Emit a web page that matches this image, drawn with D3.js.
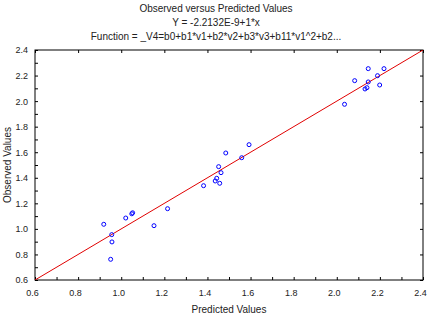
<!DOCTYPE html>
<html><head><meta charset="utf-8">
<script src="https://cdn.jsdelivr.net/npm/d3@7"></script>
<style>body{margin:0;background:#fff}svg{display:block}text{font-family:"Liberation Sans",Arial,sans-serif}</style>
</head><body>
<script>
const predicted = [0.919,0.956,0.957,0.951,1.021,1.049,1.053,1.152,1.215,1.382,1.436,1.443,1.457,1.463,1.452,1.485,1.559,1.593,2.036,2.083,2.131,2.140,2.146,2.146,2.189,2.199,2.219];
const observed  = [1.036,0.955,0.898,0.762,1.085,1.118,1.126,1.025,1.158,1.338,1.375,1.396,1.357,1.440,1.487,1.594,1.557,1.659,1.975,2.160,2.095,2.105,2.150,2.254,2.199,2.126,2.254];
const titleLines = ["Observed versus Predicted Values","Y = -2.2132E-9+1*x","Function = _V4=b0+b1*v1+b2*v2+b3*v3+b11*v1^2+b2..."];
const xTicks = [0.6,0.8,1.0,1.2,1.4,1.6,1.8,2.0,2.2,2.4];
const yTicks = [0.6,0.8,1.0,1.2,1.4,1.6,1.8,2.0,2.2,2.4];
const minorTicks = [0.7,0.9,1.1,1.3,1.5,1.7,1.9,2.1,2.3];
const fitLine = {intercept:-2.2132e-9, slope:1};

const W=434,H=320, m={l:35,r:11,t:50,b:40};
const svg=d3.select("body").append("svg").attr("width",W).attr("height",H);
const x=d3.scaleLinear().domain([0.6,2.4]).range([m.l,W-m.r]);
const y=d3.scaleLinear().domain([0.6,2.4]).range([H-m.b,m.t]);
const fmt=d3.format(".1f");

svg.selectAll("text.title").data(titleLines).join("text")
  .attr("x",216).attr("y",(d,i)=>12+i*14).attr("text-anchor","middle")
  .attr("font-size",10).attr("fill","#222").text(d=>d);

const g=svg.append("g");
const bx=g.append("g").attr("transform",`translate(0,${H-m.b})`)
  .call(d3.axisBottom(x).tickValues(xTicks).tickFormat(fmt).tickSize(-3).tickPadding(10));
bx.selectAll(".tick text").attr("dx",-3);
bx.append("g").call(d3.axisBottom(x).tickValues(minorTicks).tickFormat("").tickSize(-3));
const ly=g.append("g").attr("transform",`translate(${m.l},0)`)
  .call(d3.axisLeft(y).tickValues(yTicks).tickFormat(fmt).tickSize(-3).tickPadding(7));
ly.append("g").call(d3.axisLeft(y).tickValues(minorTicks).tickFormat("").tickSize(-3));
g.append("g").attr("transform",`translate(0,${m.t})`).call(d3.axisTop(x).tickValues(xTicks).tickFormat("").tickSize(-3));
g.append("g").attr("transform",`translate(${W-m.r},0)`).call(d3.axisRight(y).tickValues(yTicks).tickFormat("").tickSize(-3));
g.selectAll(".domain").remove();
g.selectAll(".tick line").attr("stroke","#000");
g.selectAll(".tick text").attr("font-size",9).attr("fill","#222").attr("font-family","Liberation Sans,Arial,sans-serif");

svg.append("rect").attr("x",m.l).attr("y",m.t).attr("width",W-m.r-m.l).attr("height",H-m.b-m.t)
  .attr("fill","none").attr("stroke","#000").attr("stroke-width",1);

svg.append("clipPath").attr("id","c").append("rect").attr("x",m.l).attr("y",m.t).attr("width",W-m.r-m.l).attr("height",H-m.b-m.t);
svg.append("line").attr("clip-path","url(#c)")
  .attr("x1",x(0.6)).attr("y1",y(fitLine.intercept+fitLine.slope*0.6))
  .attr("x2",x(2.4)).attr("y2",y(fitLine.intercept+fitLine.slope*2.4))
  .attr("stroke","#e00000").attr("stroke-width",1);

svg.selectAll("circle.pt").data(predicted).join("circle")
  .attr("cx",d=>x(d)).attr("cy",(d,i)=>y(observed[i])).attr("r",2)
  .attr("fill","none").attr("stroke","#0000ff").attr("stroke-width",1);

svg.append("text").attr("x",229).attr("y",313).attr("text-anchor","middle")
  .attr("font-size",10).attr("fill","#222").text("Predicted Values");
svg.append("text").attr("transform",`translate(11,${(m.t+H-m.b)/2}) rotate(-90)`).attr("text-anchor","middle")
  .attr("font-size",10).attr("fill","#222").text("Observed Values");
</script>
</body></html>
